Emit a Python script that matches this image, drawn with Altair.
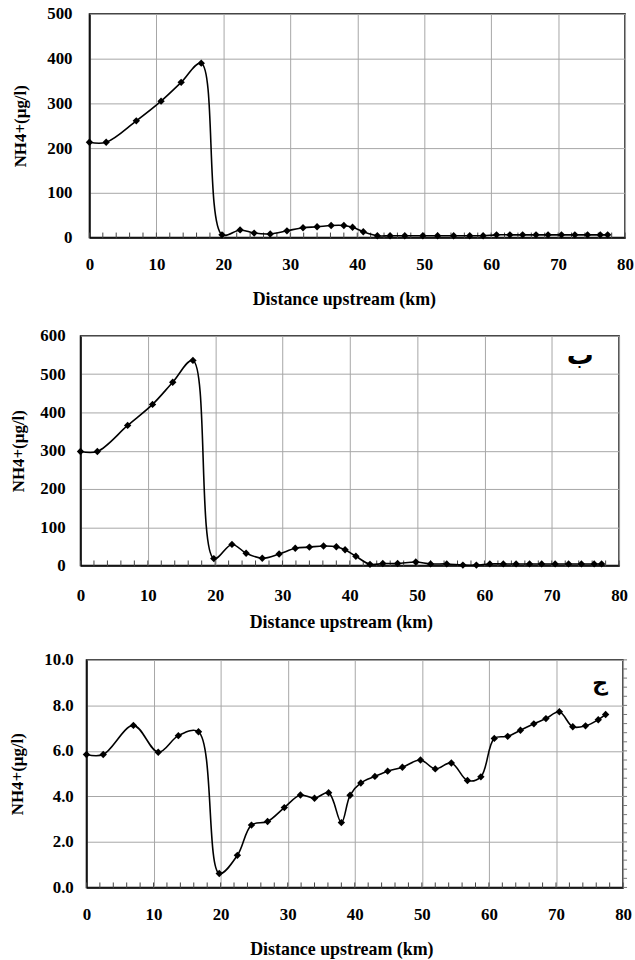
import altair as alt
import pandas as pd

# ---- data ----
distance = [0, 2.5, 7.0, 10.7, 13.7, 16.7, 19.8, 22.5, 24.6, 27.0, 29.5, 31.9, 34.0,
            36.1, 38.0, 39.3, 40.9, 43.0, 44.9, 47.1, 49.8, 52.0, 54.4, 56.8, 58.8,
            60.8, 62.8, 64.7, 66.7, 68.5, 70.5, 72.5, 74.4, 76.3, 77.4]
nh4_a = [213, 213, 261, 305, 347, 390, 6, 17, 10, 8, 15, 22, 24, 27, 27, 23, 13, 4, 4,
         4, 4, 4, 4, 4, 4, 6, 6, 6, 6, 6, 6, 6, 6, 6, 6]
nh4_b = [298, 298, 366, 421, 479, 536, 18, 55, 32, 19, 30, 45, 48, 51, 49, 41, 24, 3, 5,
         5, 9, 4, 4, 1, 1, 4, 4, 4, 4, 4, 4, 4, 4, 4, 4]
nh4_c = [5.84, 5.84, 7.12, 5.94, 6.67, 6.84, 0.61, 1.41, 2.74, 2.90, 3.51, 4.06, 3.92,
         4.16, 2.85, 4.05, 4.59, 4.88, 5.11, 5.28, 5.60, 5.21, 5.47, 4.70, 4.86, 6.55,
         6.64, 6.91, 7.19, 7.42, 7.72, 7.06, 7.10, 7.37, 7.60]

x_ticks = [0, 10, 20, 30, 40, 50, 60, 70, 80]
x_minor = list(range(0, 81, 2))
y_ticks_a = [0, 100, 200, 300, 400, 500]
y_ticks_b = [0, 100, 200, 300, 400, 500, 600]
y_ticks_c = [0, 2, 4, 6, 8, 10]
y_minor_c = [round(i * 0.4, 1) for i in range(26)]

x_title = "Distance upstream (km)"
y_title = "NH4+(µg/l)"
notes = ["ب", "ج"]

FONT = "Liberation Serif"


def panel(values, yticks, ymax, yfmt, W, H, lab_pad_y, tit_pad_y, lab_pad_x,
          tit_pad_x, tit_x, note=None, note_pos=None, note_size=22, right_minor=None):
    df = pd.DataFrame({"d": distance, "v": values})
    xenc = alt.X("d:Q", scale=alt.Scale(domain=[0, 80], nice=False, zero=False),
                 axis=alt.Axis(values=x_ticks, title=x_title, grid=True, ticks=False,
                               tickSize=0, labelPadding=lab_pad_x,
                               titlePadding=tit_pad_x, titleX=tit_x,
                               labelFlush=False))
    yenc = alt.Y("v:Q", scale=alt.Scale(domain=[0, ymax], nice=False),
                 axis=alt.Axis(values=yticks, title=y_title, format=yfmt, grid=True,
                               ticks=False, tickSize=0, labelPadding=lab_pad_y,
                               titlePadding=tit_pad_y))
    line = alt.Chart(df).mark_line(interpolate="catmull-rom", color="black",
                                   strokeWidth=1.6).encode(x=xenc, y=yenc)
    pts = alt.Chart(df).mark_point(shape="diamond", filled=True, size=55,
                                   color="black", opacity=1).encode(x=xenc, y=yenc)
    mdf = pd.DataFrame({"d": x_minor})
    minor = alt.Chart(mdf).mark_rule(color="#444444", strokeWidth=1).encode(
        x=xenc, y=alt.value(H - 5), y2=alt.value(H + 1))
    layers = [minor, line, pts]
    if right_minor is not None:
        rdf = pd.DataFrame({"v": right_minor})
        rt = alt.Chart(rdf).mark_rule(color="#777777", strokeWidth=1).encode(
            y=yenc, x=alt.value(W), x2=alt.value(W + 4))
        layers.append(rt)
    if note is not None:
        ndf = pd.DataFrame({"t": [note]})
        txt = alt.Chart(ndf).mark_text(font="DejaVu Sans", fontSize=note_size,
                                       fontWeight="bold", color="black").encode(
            x=alt.value(note_pos[0]), y=alt.value(note_pos[1]), text="t:N")
        layers.append(txt)
    return alt.layer(*layers).properties(width=W, height=H)


def spacer(H):
    return alt.Chart(pd.DataFrame({"t": [""]})).mark_text().encode(
        text="t:N").properties(width=1, height=H,
                               view=alt.ViewBackground(stroke="transparent"))


p1 = panel(nh4_a, y_ticks_a, 500, "d", 539, 225, 17.5, 17.5, 19, 18, 256)
p2 = panel(nh4_b, y_ticks_b, 600, "d", 542, 231, 15.5, 12, 22, 10, 262,
           note=notes[0], note_pos=[503, 20], note_size=27)
p3 = panel(nh4_c, y_ticks_c, 10, ".1f", 540, 229, 13.25, 17.5, 19, 18, 256.5,
           note=notes[1], note_pos=[517, 23], note_size=22, right_minor=y_minor_c)

row1 = alt.hconcat(spacer(313), p1, spacing=7)
row2 = alt.hconcat(spacer(315), p2, spacing=6)
row3 = alt.hconcat(spacer(229), p3, spacing=4)

chart = alt.vconcat(row1, row2, row3, spacing=0).properties(
    padding={"left": 0, "top": 1, "right": 0, "bottom": 0}
).configure_view(
    stroke="black", strokeWidth=1.5
).configure_axis(
    domainColor="black", domainWidth=1.5, gridColor="#a6a6a6", gridWidth=1,
    labelFont=FONT, labelFontSize=17, labelFontWeight="bold", labelColor="black",
    titleFont=FONT, titleFontSize=18, titleFontWeight="bold", titleColor="black"
).configure_axisY(
    titleFontSize=17
)

chart.save("out.html", embed_options={"renderer": "svg", "actions": False})
